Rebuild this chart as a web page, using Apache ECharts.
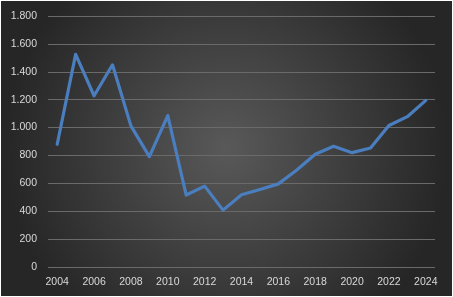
<!DOCTYPE html>
<html>
<head>
<meta charset="utf-8">
<script src="https://cdn.jsdelivr.net/npm/echarts@6/dist/echarts.min.js"></script>
<style>
html,body{margin:0;padding:0;background:#ffffff;}
#c{position:absolute;left:1px;top:1px;width:451px;height:295px;}
</style>
</head>
<body>
<div id="c"></div>
<script>
const years = ["2004","2005","2006","2007","2008","2009","2010","2011","2012","2013","2014","2015","2016","2017","2018","2019","2020","2021","2022","2023","2024"];
const values = [880,1525,1228,1450,1012,792,1086,516,580,408,518,556,596,695,808,866,820,853,1015,1078,1195];
const yTicks = {min:0, max:1800, interval:200};

const chart = echarts.init(document.getElementById('c'), null, {renderer:'canvas'});
function fmt(v){ return String(v).replace(/\B(?=(\d{3})+(?!\d))/g, '.'); }
chart.setOption({
  animation:false,
  backgroundColor:{
    type:'radial', x:0.5, y:0.5, r:0.75,
    colorStops:[{offset:0,color:'#595959'},{offset:1,color:'#262626'}]
  },
  grid:{left:47, right:17, top:15, bottom:29, containLabel:false},
  xAxis:{
    type:'category', data:years, boundaryGap:true,
    axisLine:{show:false}, axisTick:{show:false},
    axisLabel:{interval:1, color:'#d9d9d9', fontFamily:'Liberation Sans', fontSize:10.5, margin:10}
  },
  yAxis:{
    type:'value', min:yTicks.min, max:yTicks.max, interval:yTicks.interval,
    axisLine:{show:false}, axisTick:{show:false},
    splitLine:{lineStyle:{color:'#6a6a6a', width:1}},
    axisLabel:{color:'#d9d9d9', fontFamily:'Liberation Sans', fontSize:10.5, margin:11, formatter:fmt}
  },
  series:[{
    type:'line', data:values, showSymbol:false, symbol:'none',
    lineStyle:{color:'#4a7ebf', width:3.2, cap:'round', join:'round'}
  }]
});
</script>
</body>
</html>
